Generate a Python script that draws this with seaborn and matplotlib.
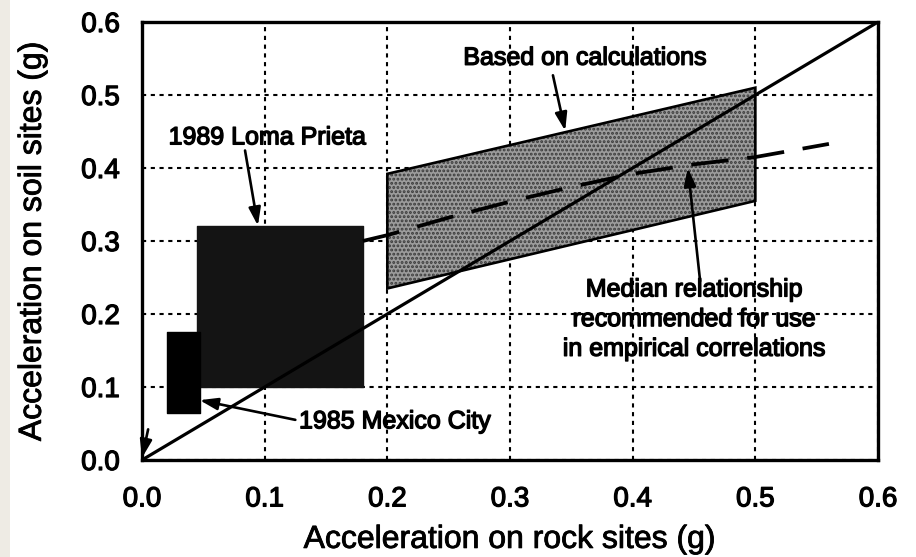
import matplotlib
matplotlib.use("Agg")
import matplotlib.pyplot as plt
import matplotlib.patheffects as pe
from matplotlib.patches import Rectangle
import seaborn as sns

# Axis ticks
x_ticks = [0.0, 0.1, 0.2, 0.3, 0.4, 0.5, 0.6]
y_ticks = [0.0, 0.1, 0.2, 0.3, 0.4, 0.5, 0.6]
tick_labels = ["0.0", "0.1", "0.2", "0.3", "0.4", "0.5", "0.6"]

# 1:1 line (soil = rock)
equal_x = [0.0, 0.6]
equal_y = [0.0, 0.6]

# Recorded ranges (rock x-range, soil y-range)
mexico_x = [0.020, 0.047]
mexico_y = [0.065, 0.175]
loma_x = [0.045, 0.180]
loma_y = [0.100, 0.320]

# Band from site-response calculations: upper edge then lower edge
calc_x = [0.20, 0.50]
calc_upper = [0.392, 0.510]
calc_lower = [0.235, 0.355]

# Median relationship recommended for empirical correlations
median_x = [0.18, 0.20, 0.25, 0.30, 0.35, 0.40, 0.45, 0.50, 0.56]
median_y = [0.300, 0.308, 0.332, 0.354, 0.374, 0.392, 0.405, 0.415, 0.433]

sns.set_theme(style="white")
plt.rcParams["font.family"] = ["Liberation Sans", "DejaVu Sans"]
plt.rcParams["hatch.linewidth"] = 1.4

fig = plt.figure(figsize=(9.16, 5.57), dpi=100)
fig.patch.set_facecolor("white")
fig.patches.append(Rectangle((0, 0), 10 / 916, 1, transform=fig.transFigure,
                             facecolor="#eeebe4", edgecolor="none", zorder=0))
ax = fig.add_axes([142 / 916, 1 - 460 / 557, 736 / 916, 438 / 557])

# Recorded data boxes
ax.fill_between(loma_x, loma_y[0], loma_y[1], facecolor="#141414",
                edgecolor="#141414", linewidth=1.0, zorder=3)
ax.fill_between(mexico_x, mexico_y[0], mexico_y[1], facecolor="black",
                edgecolor="black", linewidth=1.0, zorder=3)

# Calculated band: grey stipple with black outline
band_x = calc_x + calc_x[::-1]
band_y = calc_upper + calc_lower[::-1]
ax.fill(band_x, band_y, facecolor="#9c9c9c", edgecolor="none", zorder=2)
ax.fill(band_x, band_y, facecolor="none", edgecolor="#3a3a3a", hatch="....",
        linewidth=0, zorder=2)
ax.fill(band_x, band_y, facecolor="none", edgecolor="black", linewidth=1.9, zorder=4)

# 1:1 line and median curve
sns.lineplot(x=equal_x, y=equal_y, ax=ax, color="black", linewidth=2.3, zorder=5)
sns.lineplot(x=median_x, y=median_y, ax=ax, color="black", linewidth=2.7,
             linestyle=(0, (10, 5)), zorder=5, sort=False)

ax.set_xlim(0, 0.6)
ax.set_ylim(0, 0.6)
ax.set_xticks(x_ticks)
ax.set_yticks(y_ticks)
ax.set_xticklabels(tick_labels)
ax.set_yticklabels(tick_labels)
ax.tick_params(axis="both", length=0, labelsize=20, colors="black")
ax.tick_params(axis="x", pad=19)
ax.tick_params(axis="y", pad=16)
thick = [pe.withStroke(linewidth=0.9, foreground="black")]
for lab in ax.get_xticklabels() + ax.get_yticklabels():
    lab.set_path_effects(thick)
ax.grid(True, color="black", linestyle=(0, (2.0, 2.2)), linewidth=1.5, zorder=1)
ax.set_axisbelow(True)
for s in ax.spines.values():
    s.set_visible(True)
    s.set_color("black")
    s.set_linewidth(2.4)

ax.set_xlabel("Acceleration on rock sites (g)", fontsize=23, color="black", labelpad=9)
ax.set_ylabel("Acceleration on soil sites (g)", fontsize=23, color="black", labelpad=24)
ax.xaxis.label.set_path_effects([pe.withStroke(linewidth=0.6, foreground="black")])
ax.yaxis.label.set_path_effects([pe.withStroke(linewidth=0.6, foreground="black")])

arrow = dict(arrowstyle="-|>,head_length=0.9,head_width=0.3", color="black",
             linewidth=1.9, shrinkA=0, shrinkB=0)
txt = dict(fontsize=18, color="black",
           path_effects=[pe.withStroke(linewidth=1.0, foreground="black")], zorder=6)

ax.annotate("Based on calculations", xy=(0.361, 0.551),
            ha="center", va="center", **txt)
ax.annotate("", xy=(0.345, 0.451), xytext=(0.335, 0.527), arrowprops=arrow)
ax.annotate("1989 Loma Prieta", xy=(0.102, 0.442),
            ha="center", va="center", **txt)
ax.annotate("", xy=(0.0945, 0.321), xytext=(0.084, 0.424), arrowprops=arrow, zorder=6)
ax.annotate("Median relationship\nrecommended for use\nin empirical correlations",
            xy=(0.45, 0.193), ha="center", va="center", linespacing=1.3, **txt)
ax.annotate("", xy=(0.445, 0.400), xytext=(0.455, 0.245), arrowprops=arrow, zorder=6)
ax.annotate("1985 Mexico City", xy=(0.128, 0.053), ha="left", va="center", **txt)
ax.annotate("", xy=(0.047, 0.082), xytext=(0.125, 0.055), arrowprops=arrow, zorder=6)
ax.annotate("", xy=(0.0, 0.003), xytext=(0.005, 0.042), arrowprops=arrow, zorder=6)

fig.savefig("out.png", dpi=100)
